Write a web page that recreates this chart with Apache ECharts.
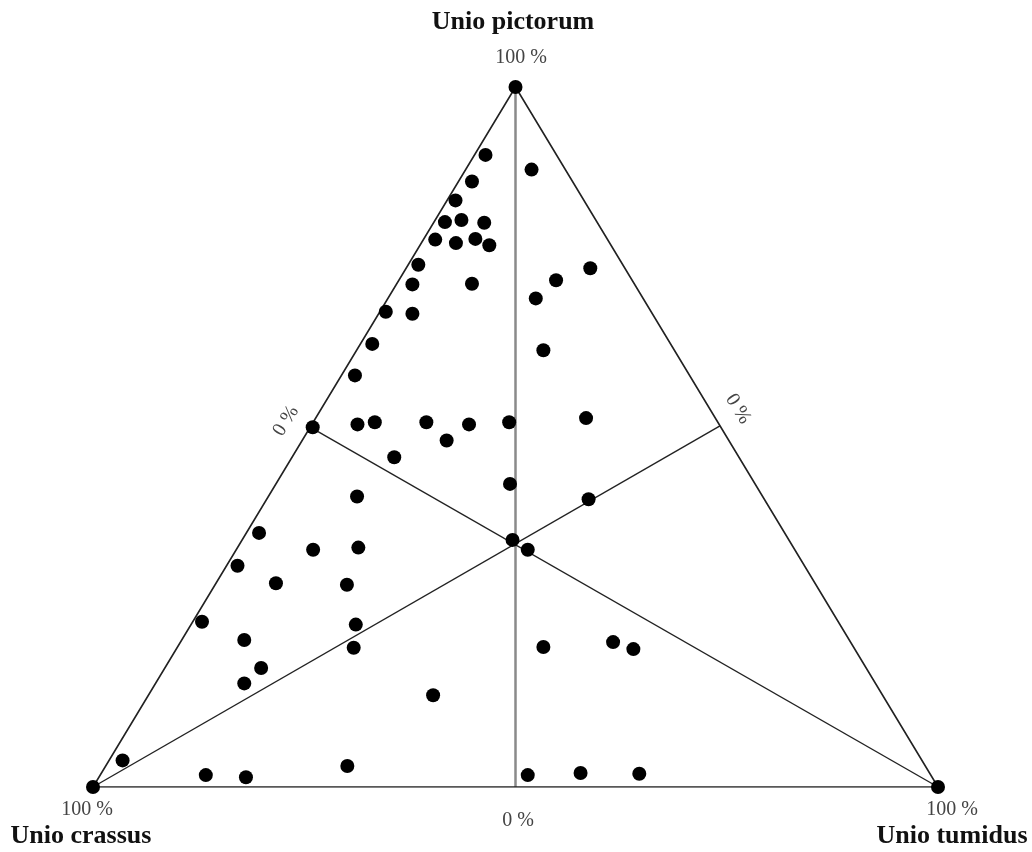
<!DOCTYPE html>
<html>
<head>
<meta charset="utf-8">
<script src="https://cdn.jsdelivr.net/npm/echarts@6/dist/echarts.min.js"></script>
<style>
html,body{margin:0;padding:0;background:#fff;}
#chart{width:1032px;height:852px;}
</style>
</head>
<body>
<div id="chart"></div>
<script>
// Ternary shares (%) of each sample: Unio pictorum / Unio crassus / Unio tumidus
const pictorum = [90.3,88.2,86.5,83.8,80.7,81.0,80.6,78.2,77.7,78.3,77.4,100,74.6,71.8,71.9,67.9,67.6,63.3,58.8,51.8,52.1,52.1,51.8,52.1,49.5,47.1,74.1,72.4,69.8,62.4,52.7,51.4,43.3,41.1,35.3,33.9,41.5,36.3,33.9,34.2,31.6,29.1,28.9,23.6,23.2,21.0,19.9,17.0,14.8,13.1,3.8,1.7,1.4,3.0,0,0,20.0,20.7,19.7,1.7,2.0,1.9];
const crassus  = [8.4,4.0,11.9,15.2,18.0,15.9,13.4,20.4,18.2,15.6,14.4,0,24.2,26.3,19.2,31.4,28.4,35.3,39.6,42.8,40.6,34.5,29.6,24.7,33.4,40.8,4.1,9.0,12.7,15.5,15.3,48.3,29.0,20.8,32.7,31.6,48.0,62.2,57.0,51.5,67.1,63.8,55.5,75.3,57.3,71.6,59.2,71.6,74.7,53.2,94.6,85.8,81.2,68.4,100,0,36.7,28.1,26.2,47.7,41.3,34.4];
const tumidus  = [1.3,7.8,1.6,1.0,1.3,3.1,6.0,1.4,4.1,6.1,8.2,0,1.2,1.9,8.9,0.7,4.0,1.4,1.6,5.4,7.3,13.4,18.6,23.2,17.1,12.1,21.8,18.6,17.5,22.1,32.0,0.3,27.7,38.1,32.0,34.5,10.5,1.5,9.1,14.3,1.3,7.1,15.6,1.1,19.5,7.4,20.9,11.4,10.5,33.7,1.6,12.5,17.4,28.6,0,100,43.3,51.2,54.1,50.6,56.7,63.7];

// Triangle corners and guide lines (ternary: pictorum, crassus, tumidus)
const outline = [[100,0,0],[0,100,0],[0,0,100],[100,0,0]];
const guideVertical = [[100,0,0],[0,50,50]];
const guideLeft = [[0,100,0],[51.6,0,48.4]];
const guideRight = [[0,0,100],[51.4,48.6,0]];

function toXY(p, c, t) {
  const s = p + c + t;
  return [(t + p / 2) / s * 100, p / s * 100];
}
const pts = pictorum.map((p, i) => toXY(p, crassus[i], tumidus[i]));
const conv = arr => arr.map(v => toXY(v[0], v[1], v[2]));

const chart = echarts.init(document.getElementById('chart'), null, {renderer: 'canvas'});
const serif = '"Liberation Serif", "DejaVu Serif", serif';
function lineSeries(data, color, width) {
  return {
    type: 'line', data: conv(data), symbol: 'none', silent: true, z: 1,
    lineStyle: {color: color, width: width}, animation: false
  };
}
function label(text, x, y, size, bold, color, rotation) {
  return {
    type: 'text', x: x, y: y, rotation: rotation || 0,
    style: {text: text, font: (bold ? 'bold ' : '') + size + 'px ' + serif, fill: color, align: 'center', verticalAlign: 'middle'}
  };
}
chart.setOption({
  backgroundColor: '#ffffff',
  animation: false,
  grid: {left: 93, right: 94, top: 87, bottom: 65},
  xAxis: {type: 'value', min: 0, max: 100, show: false},
  yAxis: {type: 'value', min: 0, max: 100, show: false},
  series: [
    lineSeries(guideVertical, '#8a8a8a', 2.5),
    lineSeries(guideLeft, '#222222', 1.4),
    lineSeries(guideRight, '#222222', 1.4),
    lineSeries(outline, '#222222', 1.6),
    {
      type: 'scatter', data: pts, symbol: 'circle', symbolSize: 14, z: 3,
      itemStyle: {color: '#000000', opacity: 1}, animation: false
    }
  ],
  graphic: [
    label('Unio pictorum', 513, 22, 26, true, '#111'),
    label('100 %', 521, 58, 20, false, '#444'),
    label('100 %', 87, 810, 20, false, '#444'),
    label('Unio crassus', 81, 836, 26, true, '#111'),
    label('0 %', 518, 821, 20, false, '#444'),
    label('100 %', 952, 810, 20, false, '#444'),
    label('Unio tumidus', 952, 836, 26, true, '#111'),
    label('0 %', 286, 421, 20, false, '#444', 1.01),
    label('0 %', 738, 409, 20, false, '#444', -1.01)
  ]
});
</script>
</body>
</html>
